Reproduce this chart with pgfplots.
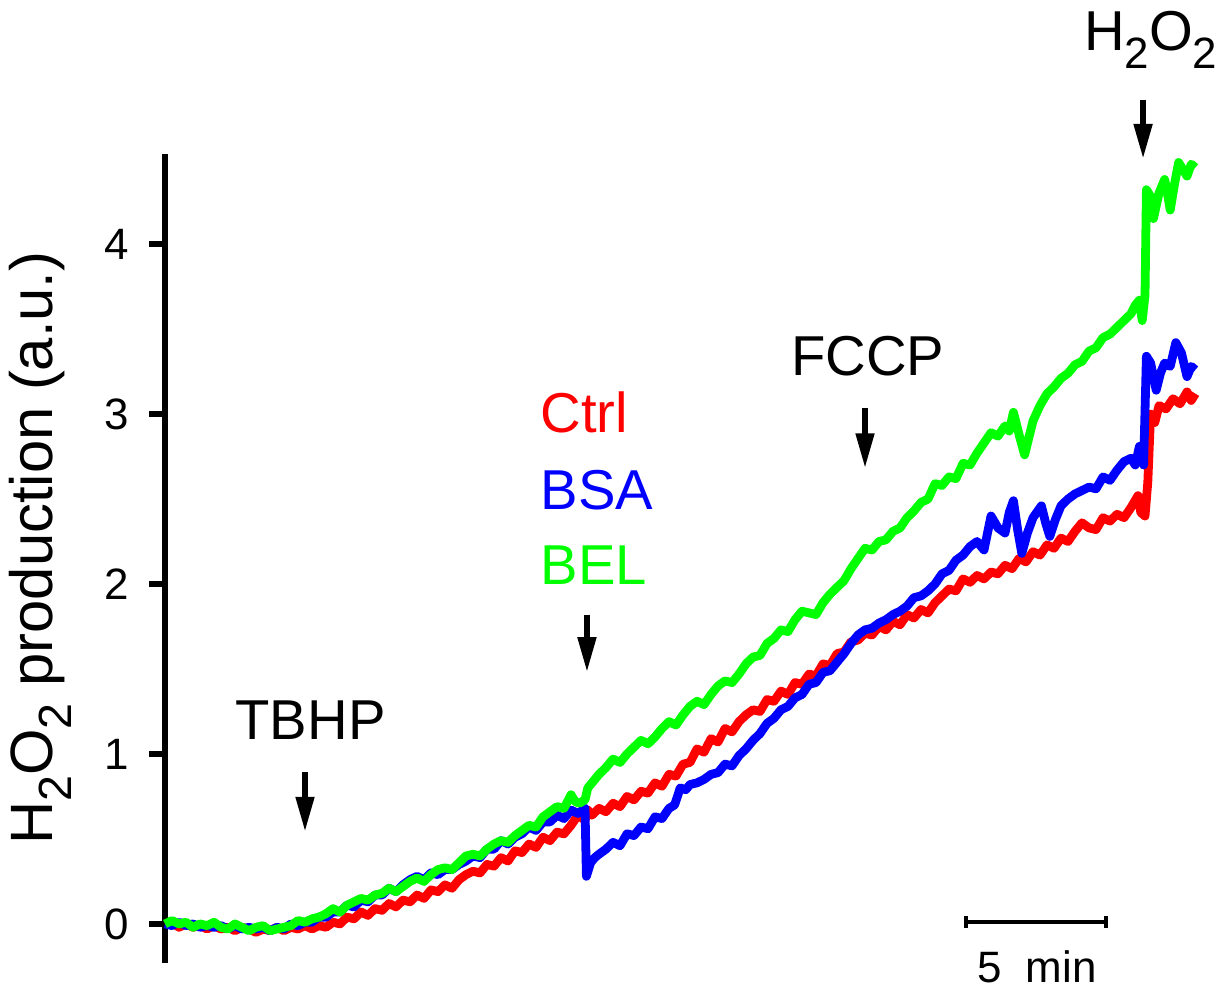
\documentclass[border=0pt]{standalone}
\usepackage{pgfplots}
\pgfplotsset{compat=1.18}
\usepackage{graphicx}
\usepackage{fontspec}
\setmainfont{Liberation Sans}
\usetikzlibrary{arrows.meta}
\newcommand\sub[1]{\raisebox{-0.6ex}{\scalebox{0.78}{#1}}}
\definecolor{cred}{RGB}{255,0,0}
\definecolor{cblue}{RGB}{0,0,255}
\definecolor{cgreen}{RGB}{0,255,0}
\begin{document}
\begin{tikzpicture}
\useasboundingbox (0,0) rectangle (12.19cm,9.87cm);
\begin{axis}[
  scale only axis,
  width=10.36cm, height=8.09cm,
  at={(1.65cm,0.24cm)}, anchor=south west,
  xmin=0, xmax=37, ymin=-0.23, ymax=4.53,
  axis x line=none,
  axis y line*=left,
  y axis line style={line width=1.5pt},
  ytick={0,1,2,3,4},
  tick align=outside,
  major tick length=0.16cm,
  ytick style={line width=1.5pt, black},
  yticklabel style={font=\fontsize{12.5}{14}\selectfont, xshift=-0.08cm},
  /pgf/number format/assume math mode=true,
  ylabel={H\sub{2}O\sub{2} production (a.u.)},
  ylabel style={at={(axis description cs:-0.12,0.513)}, anchor=center, font=\fontsize{17}{20}\selectfont},
  clip=false,
  every axis plot/.append style={line width=2.5pt, line join=round},
]
% Ctrl
\addplot[cred] coordinates {
(0,0.00)(0.25,0.01)(0.5,-0.02)(0.75,0.00)(1,-0.02)(1.25,-0.01)(1.5,-0.03)(1.75,-0.01)(2,-0.03)(2.25,-0.02)
(2.5,-0.04)(2.75,-0.02)(3,-0.03)(3.25,-0.05)(3.5,-0.03)(3.75,-0.04)(4,-0.02)(4.25,-0.04)(4.5,-0.02)(4.75,-0.03)
(5,-0.01)(5.25,-0.03)(5.5,-0.01)(5.75,-0.02)(6,0.01)(6.25,0.00)(6.5,0.04)(6.75,0.03)(7,0.07)(7.25,0.05)
(7.5,0.09)(7.75,0.08)(8,0.12)(8.25,0.10)(8.5,0.14)(8.75,0.13)(9,0.17)(9.25,0.15)(9.5,0.20)(9.75,0.19)
(10,0.23)(10.25,0.21)(10.5,0.26)(10.75,0.29)(11,0.31)(11.25,0.30)(11.5,0.35)(11.75,0.34)(12,0.39)(12.25,0.37)
(12.5,0.43)(12.75,0.42)(13,0.47)(13.25,0.45)(13.5,0.51)(13.75,0.49)(14,0.54)(14.25,0.53)(14.5,0.58)(14.75,0.64)
(15,0.61)(15.1,0.67)(15.25,0.64)(15.5,0.68)(15.75,0.66)(16,0.71)(16.25,0.69)(16.5,0.75)(16.75,0.73)(17,0.78)
(17.25,0.77)(17.5,0.83)(17.75,0.81)(18,0.88)(18.25,0.87)(18.5,0.94)(18.75,0.95)(19,1.03)(19.25,1.01)(19.5,1.09)
(19.75,1.07)(20,1.15)(20.25,1.13)(20.5,1.19)(20.75,1.23)(21,1.26)(21.25,1.25)(21.5,1.32)(21.75,1.31)(22,1.37)
(22.25,1.35)(22.5,1.42)(22.75,1.41)(23,1.47)(23.25,1.46)(23.5,1.53)(23.75,1.52)(24,1.59)(24.25,1.60)(24.5,1.66)
(24.75,1.67)(25,1.71)(25.25,1.70)(25.5,1.75)(25.75,1.73)(26,1.78)(26.25,1.76)(26.5,1.82)(26.75,1.80)(27,1.85)
(27.25,1.83)(27.5,1.89)(27.75,1.93)(28,1.97)(28.25,1.96)(28.5,2.03)(28.75,2.01)(29,2.05)(29.25,2.03)(29.5,2.07)
(29.75,2.06)(30,2.11)(30.25,2.09)(30.5,2.15)(30.75,2.13)(31,2.19)(31.25,2.17)(31.5,2.23)(31.75,2.21)(32,2.27)
(32.25,2.25)(32.5,2.31)(32.75,2.36)(33,2.33)(33.25,2.32)(33.5,2.39)(33.75,2.37)(34,2.41)(34.25,2.39)(34.5,2.45)
(34.75,2.52)(34.85,2.42)(35,2.40)(35.1,2.60)(35.2,3.00)(35.35,2.95)(35.5,3.05)(35.75,3.03)(36,3.09)(36.25,3.06)
(36.5,3.13)(36.65,3.08)(36.8,3.12)
};
% BSA
\addplot[cblue] coordinates {
(0,0.00)(0.25,-0.01)(0.5,0.01)(0.75,-0.01)(1,0.00)(1.25,-0.02)(1.5,-0.01)(1.75,-0.02)(2,-0.01)(2.25,-0.03)
(2.5,-0.01)(2.75,-0.03)(3,-0.02)(3.25,-0.03)(3.5,-0.02)(3.75,-0.04)(4,-0.02)(4.25,-0.03)(4.5,0.00)(4.75,-0.01)
(5,0.01)(5.25,0.01)(5.5,0.04)(5.75,0.04)(6,0.07)(6.25,0.07)(6.5,0.11)(6.75,0.10)(7,0.14)(7.25,0.13)
(7.5,0.17)(7.75,0.17)(8,0.21)(8.25,0.19)(8.5,0.23)(8.75,0.26)(9,0.28)(9.25,0.26)(9.5,0.30)(9.75,0.29)
(10,0.32)(10.25,0.32)(10.5,0.35)(10.75,0.37)(11,0.40)(11.25,0.39)(11.5,0.44)(11.75,0.44)(12,0.49)(12.25,0.47)
(12.5,0.51)(12.75,0.53)(13,0.57)(13.25,0.55)(13.5,0.60)(13.75,0.60)(14,0.64)(14.25,0.62)(14.5,0.67)(14.75,0.65)
(15,0.68)(15.05,0.28)(15.2,0.36)(15.35,0.39)(15.5,0.41)(15.75,0.44)(16,0.48)(16.25,0.46)(16.5,0.53)(16.75,0.52)
(17,0.57)(17.25,0.56)(17.5,0.63)(17.75,0.62)(18,0.68)(18.2,0.70)(18.4,0.80)(18.6,0.79)(18.75,0.82)(19,0.83)
(19.25,0.85)(19.5,0.88)(19.75,0.89)(20,0.94)(20.25,0.93)(20.5,0.99)(20.75,1.03)(21,1.08)(21.25,1.12)(21.5,1.18)
(21.75,1.21)(22,1.26)(22.25,1.28)(22.5,1.33)(22.75,1.35)(23,1.41)(23.25,1.42)(23.5,1.48)(23.75,1.49)(24,1.54)
(24.25,1.59)(24.5,1.65)(24.75,1.70)(25,1.73)(25.25,1.74)(25.5,1.77)(25.75,1.79)(26,1.82)(26.25,1.84)(26.5,1.87)
(26.75,1.92)(27,1.93)(27.25,1.96)(27.5,2.00)(27.75,2.06)(28,2.08)(28.25,2.14)(28.5,2.17)(28.75,2.22)(29,2.25)
(29.25,2.20)(29.5,2.40)(29.75,2.33)(30,2.30)(30.15,2.42)(30.3,2.49)(30.45,2.32)(30.6,2.18)(30.8,2.30)(31,2.39)
(31.3,2.46)(31.45,2.36)(31.6,2.28)(31.8,2.38)(32,2.46)(32.25,2.50)(32.5,2.53)(32.75,2.55)(33,2.57)(33.25,2.56)
(33.5,2.63)(33.75,2.61)(34,2.67)(34.25,2.72)(34.5,2.74)(34.65,2.70)(34.8,2.81)(34.95,2.70)(35.05,3.34)(35.2,3.30)
(35.4,3.14)(35.55,3.24)(35.7,3.30)(35.9,3.28)(36.1,3.42)(36.3,3.36)(36.5,3.22)(36.65,3.28)(36.8,3.26)
};
% BEL
\addplot[cgreen] coordinates {
(0,0.00)(0.25,0.02)(0.5,0.00)(0.75,0.01)(1,-0.02)(1.25,0.00)(1.5,-0.01)(1.75,0.01)(2,-0.02)(2.25,-0.03)
(2.5,0.00)(2.75,-0.02)(3,-0.04)(3.25,-0.02)(3.5,-0.01)(3.75,-0.04)(4,-0.03)(4.25,-0.02)(4.5,-0.01)(4.75,0.02)
(5,0.01)(5.25,0.03)(5.5,0.04)(5.75,0.06)(6,0.09)(6.25,0.07)(6.5,0.11)(6.75,0.13)(7,0.15)(7.25,0.14)
(7.5,0.17)(7.75,0.18)(8,0.21)(8.25,0.19)(8.5,0.22)(8.75,0.25)(9,0.27)(9.25,0.25)(9.5,0.29)(9.75,0.32)
(10,0.33)(10.25,0.32)(10.5,0.36)(10.75,0.40)(11,0.41)(11.25,0.40)(11.5,0.44)(11.75,0.47)(12,0.49)(12.25,0.48)
(12.5,0.52)(12.75,0.55)(13,0.58)(13.25,0.57)(13.5,0.63)(13.75,0.66)(14,0.69)(14.25,0.68)(14.5,0.76)(14.65,0.72)
(14.8,0.71)(15,0.73)(15.1,0.80)(15.25,0.83)(15.5,0.88)(15.75,0.92)(16,0.97)(16.25,0.95)(16.5,1.00)(16.75,1.04)
(17,1.08)(17.25,1.06)(17.5,1.10)(17.75,1.15)(18,1.19)(18.25,1.17)(18.5,1.23)(18.75,1.28)(19,1.31)(19.25,1.29)
(19.5,1.35)(19.75,1.40)(20,1.43)(20.25,1.42)(20.5,1.47)(20.75,1.53)(21,1.57)(21.25,1.58)(21.5,1.65)(21.75,1.68)
(22,1.73)(22.25,1.72)(22.5,1.79)(22.75,1.84)(23,1.83)(23.25,1.82)(23.5,1.89)(23.75,1.94)(24,1.98)(24.25,2.02)
(24.5,2.09)(24.75,2.15)(25,2.21)(25.25,2.20)(25.5,2.25)(25.75,2.26)(26,2.31)(26.25,2.33)(26.5,2.39)(26.75,2.43)
(27,2.48)(27.25,2.50)(27.5,2.59)(27.75,2.58)(28,2.63)(28.25,2.62)(28.5,2.71)(28.75,2.70)(29,2.77)(29.25,2.83)
(29.5,2.89)(29.75,2.87)(30,2.93)(30.15,2.90)(30.3,3.01)(30.5,2.88)(30.7,2.76)(30.85,2.86)(31,2.96)(31.25,3.05)
(31.5,3.12)(31.75,3.16)(32,3.21)(32.25,3.24)(32.5,3.29)(32.75,3.31)(33,3.37)(33.25,3.39)(33.5,3.45)(33.75,3.47)
(34,3.51)(34.25,3.55)(34.5,3.59)(34.65,3.64)(34.8,3.67)(34.9,3.55)(35,3.70)(35.05,4.32)(35.2,4.28)(35.3,4.15)
(35.5,4.30)(35.7,4.38)(35.8,4.30)(35.9,4.20)(36.05,4.35)(36.2,4.48)(36.35,4.44)(36.5,4.40)(36.65,4.47)(36.8,4.45)
};
% annotations
\node[font=\fontsize{16}{19}\selectfont] at (axis cs:5.2,1.2) {TBHP};
\draw[line width=1.7pt, -{Triangle[width=5pt,length=10pt]}] (axis cs:5.0,0.894) -- (axis cs:5.0,0.541);
\node[font=\fontsize{16}{19}\selectfont, text=cred, anchor=west, inner sep=0pt] at (axis cs:13.39,3.01) {Ctrl};
\node[font=\fontsize{16}{19}\selectfont, text=cblue, anchor=west, inner sep=0pt] at (axis cs:13.39,2.55) {BSA};
\node[font=\fontsize{16}{19}\selectfont, text=cgreen, anchor=west, inner sep=0pt] at (axis cs:13.39,2.11) {BEL};
\draw[line width=1.7pt, -{Triangle[width=5pt,length=10pt]}] (axis cs:15.07,1.82) -- (axis cs:15.07,1.48);
\node[font=\fontsize{16}{19}\selectfont] at (axis cs:25.1,3.34) {FCCP};
\draw[line width=1.7pt, -{Triangle[width=5pt,length=10pt]}] (axis cs:25.0,3.035) -- (axis cs:25.0,2.68);
\node[font=\fontsize{16}{19}\selectfont] at (axis cs:35.2,5.2) {H\sub{2}O\sub{2}};
\draw[line width=1.7pt, -{Triangle[width=5pt,length=10pt]}] (axis cs:34.93,4.85) -- (axis cs:34.93,4.5);
\draw[line width=1.3pt] (axis cs:28.6,0.012) -- (axis cs:33.6,0.012);
\draw[line width=1.3pt] (axis cs:28.6,-0.025) -- (axis cs:28.6,0.049);
\draw[line width=1.3pt] (axis cs:33.6,-0.025) -- (axis cs:33.6,0.049);
\node[font=\fontsize{12.5}{14}\selectfont] at (axis cs:31.14,-0.25) {5\ \ min};
\end{axis}
\end{tikzpicture}
\end{document}
